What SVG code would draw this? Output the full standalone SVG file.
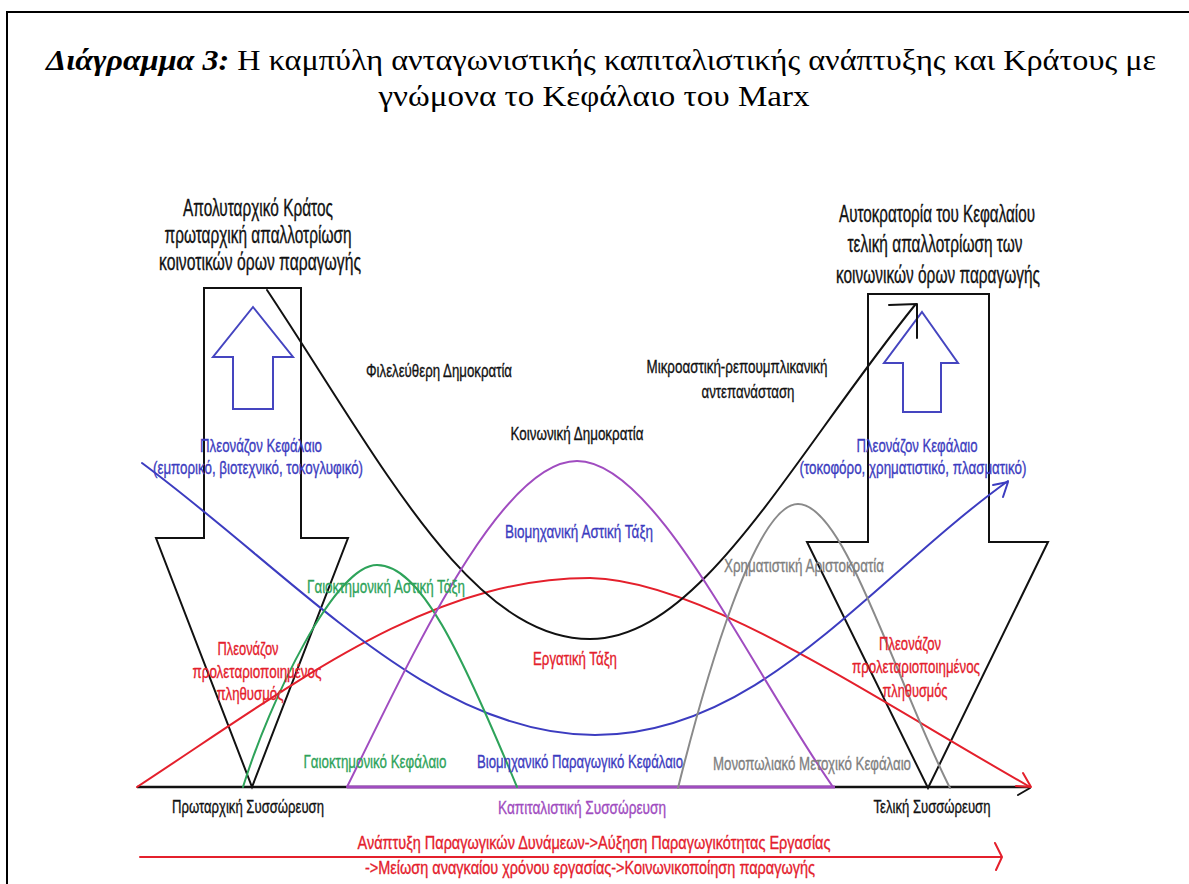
<svg xmlns="http://www.w3.org/2000/svg" width="1189" height="884" viewBox="0 0 1189 884">
<style>
.t{font-family:"Liberation Sans",Arial,sans-serif;text-anchor:middle;font-size:19px;stroke-width:0.35}
.big{font-size:23px;fill:#111;stroke:#111}
.blk{fill:#111;stroke:#111}
.blu{fill:#3c3cc0;stroke:#3c3cc0}
.red{fill:#e4202c;stroke:#e4202c}
.grn{fill:#2ea35a;stroke:#2ea35a}
.gry{fill:#7f7f7f;stroke:#7f7f7f}
.pur{fill:#a04cc0;stroke:#a04cc0}
.ttl{font-family:"Liberation Serif","Times New Roman",serif;font-size:30px;text-anchor:middle;fill:#000}
.c{fill:none;stroke-width:2;stroke-linecap:round;stroke-linejoin:round}
</style>
<rect width="1189" height="884" fill="#fff"/>
<g id="frame"><rect x="7" y="12" width="1200" height="900" fill="none" stroke="#000" stroke-width="2"/></g>
<g id="title">
<text class="ttl" x="601" y="70" textLength="1110" lengthAdjust="spacingAndGlyphs"><tspan font-weight="bold" font-style="italic">Διάγραμμα 3:</tspan> Η καμπύλη ανταγωνιστικής καπιταλιστικής ανάπτυξης και Κράτους με</text>
<text class="ttl" x="594" y="106" textLength="431" lengthAdjust="spacingAndGlyphs">γνώμονα το Κεφάλαιο του Marx</text>
</g>
<g id="left-state">
<polygon points="204,288 301,288 301,538 348,538 252,787 156,538 204,538" fill="none" stroke="#111" stroke-width="2"/>
<polygon points="253,307 293,357 273,357 273,409 233,409 233,357 213,357" fill="none" stroke="#4545c0" stroke-width="2"/>
<text class="t big" x="258" y="216" textLength="150" lengthAdjust="spacingAndGlyphs">Απολυταρχικό Κράτος</text>
<text class="t big" x="258" y="243" textLength="187" lengthAdjust="spacingAndGlyphs">πρωταρχική απαλλοτρίωση</text>
<text class="t big" x="260" y="270" textLength="202" lengthAdjust="spacingAndGlyphs">κοινοτικών όρων παραγωγής</text>
</g>
<g id="right-state">
<polygon points="868,294 989,294 989,542 1048,542 928,788 807,542 868,542" fill="none" stroke="#111" stroke-width="2"/>
<polygon points="922,312 958,363 941,363 941,412 903,412 903,363 884,363" fill="none" stroke="#4545c0" stroke-width="2"/>
<text class="t big" x="937" y="222" textLength="196" lengthAdjust="spacingAndGlyphs">Αυτοκρατορία του Κεφαλαίου</text>
<text class="t big" x="935" y="252" textLength="175" lengthAdjust="spacingAndGlyphs">τελική απαλλοτρίωση των</text>
<text class="t big" x="938" y="283" textLength="204" lengthAdjust="spacingAndGlyphs">κοινωνικών όρων παραγωγής</text>
</g>
<g id="connectors">
<line x1="137" y1="787" x2="1030" y2="787" stroke="#111" stroke-width="2.5"/>
<path class="c" d="M1030,788 L1018,795" stroke="#111"/>
<line x1="347" y1="787" x2="835" y2="787" stroke="#a04cc0" stroke-width="3"/>
<path class="c" stroke="#e4202c" d="M137,787 C300,680 430,578 590,578 C700,580 860,690 1030,787"/>
<path class="c" stroke="#e4202c" d="M1023,773 L1031,787 L1016,786"/>
<path class="c" stroke="#3c3cc0" d="M142,463 C300,580 430,735 595,735 C760,735 870,580 1008,481"/>
<path class="c" stroke="#3c3cc0" d="M993,485 L1008,482 L1003,497"/>
<path class="c" stroke="#111" d="M267,290 C380,460 470,639 590,639 C700,639 790,460 915,305"/>
<path class="c" stroke="#111" d="M889,305 L917,304 L917,338"/>
<path class="c" stroke="#2ea35a" d="M243,787 C270,700 335,565 377,565 C420,565 460,650 517,787"/>
<path class="c" stroke="#a04cc0" d="M347,787 C410,660 500,461 577,461 C655,461 745,660 833,787"/>
<path class="c" stroke="#8a8a8a" d="M678,788 C705,680 755,504 798,504 C845,504 895,680 950,788"/>
<path class="c" stroke="#e4202c" stroke-width="2.5" d="M140,857 L1002,857 M995,843 L1002,857 L996,870"/>
</g>
<g id="labels">
<g id="lbl-filel"><text class="t blk" x="439" y="377" textLength="146" lengthAdjust="spacingAndGlyphs">Φιλελεύθερη Δημοκρατία</text></g>
<g id="lbl-mikro"><text class="t blk" x="737" y="373" textLength="181" lengthAdjust="spacingAndGlyphs">Μικροαστική-ρεπουμπλικανική</text>
<text class="t blk" x="748" y="398" textLength="93" lengthAdjust="spacingAndGlyphs">αντεπανάσταση</text></g>
<g id="lbl-koin"><text class="t blk" x="577" y="440" textLength="133" lengthAdjust="spacingAndGlyphs">Κοινωνική Δημοκρατία</text></g>
<g id="lbl-pk-left"><text class="t blu" x="261" y="452" textLength="122" lengthAdjust="spacingAndGlyphs">Πλεονάζον Κεφάλαιο</text>
<text class="t blu" x="258" y="474" textLength="210" lengthAdjust="spacingAndGlyphs">(εμπορικό, βιοτεχνικό, τοκογλυφικό)</text></g>
<g id="lbl-pk-right"><text class="t blu" x="917" y="452" textLength="121" lengthAdjust="spacingAndGlyphs">Πλεονάζον Κεφάλαιο</text>
<text class="t blu" x="913" y="474" textLength="227" lengthAdjust="spacingAndGlyphs">(τοκοφόρο, χρηματιστικό, πλασματικό)</text></g>
<g id="lbl-biom-at"><text class="t blu" x="579" y="538" textLength="148" lengthAdjust="spacingAndGlyphs">Βιομηχανική Αστική Τάξη</text></g>
<g id="lbl-gaio-at"><text class="t grn" x="386" y="593" textLength="158" lengthAdjust="spacingAndGlyphs">Γαιοκτημονική Αστική Τάξη</text></g>
<g id="lbl-xrim"><text class="t gry" x="804" y="572" textLength="160" lengthAdjust="spacingAndGlyphs">Χρηματιστική Αριστοκρατία</text></g>
<g id="lbl-erg"><text class="t red" x="575" y="665" textLength="84" lengthAdjust="spacingAndGlyphs">Εργατική Τάξη</text></g>
<g id="lbl-pp-left"><text class="t red" x="248" y="655" textLength="61" lengthAdjust="spacingAndGlyphs">Πλεονάζον</text>
<text class="t red" x="257" y="678" textLength="129" lengthAdjust="spacingAndGlyphs">προλεταριοποιημένος</text>
<text class="t red" x="250" y="700" textLength="67" lengthAdjust="spacingAndGlyphs">πληθυσμός</text></g>
<g id="lbl-pp-right"><text class="t red" x="910" y="650" textLength="62" lengthAdjust="spacingAndGlyphs">Πλεονάζον</text>
<text class="t red" x="916" y="673" textLength="128" lengthAdjust="spacingAndGlyphs">προλεταριοποιημένος</text>
<text class="t red" x="915" y="697" textLength="65" lengthAdjust="spacingAndGlyphs">πληθυσμός</text></g>
<g id="lbl-gaio-k"><text class="t grn" x="375" y="768" textLength="143" lengthAdjust="spacingAndGlyphs">Γαιοκτημονικό Κεφάλαιο</text></g>
<g id="lbl-biom-k"><text class="t blu" x="580" y="768" textLength="206" lengthAdjust="spacingAndGlyphs">Βιομηχανικό Παραγωγικό Κεφάλαιο</text></g>
<g id="lbl-mono-k"><text class="t gry" x="812" y="770" textLength="198" lengthAdjust="spacingAndGlyphs">Μονοπωλιακό Μετοχικό Κεφάλαιο</text></g>
<g id="lbl-prot"><text class="t blk" x="248" y="813" textLength="152" lengthAdjust="spacingAndGlyphs">Πρωταρχική Συσσώρευση</text></g>
<g id="lbl-kap"><text class="t pur" x="582" y="814" textLength="168" lengthAdjust="spacingAndGlyphs">Καπιταλιστική Συσσώρευση</text></g>
<g id="lbl-tel"><text class="t blk" x="932" y="813" textLength="117" lengthAdjust="spacingAndGlyphs">Τελική Συσσώρευση</text></g>
<g id="lbl-bottom"><text class="t red" x="594" y="849" font-size="17" textLength="473" lengthAdjust="spacingAndGlyphs">Ανάπτυξη Παραγωγικών Δυνάμεων-&gt;Αύξηση Παραγωγικότητας Εργασίας</text>
<text class="t red" x="590" y="874" font-size="17" textLength="450" lengthAdjust="spacingAndGlyphs">-&gt;Μείωση αναγκαίου χρόνου εργασίας-&gt;Κοινωνικοποίηση παραγωγής</text></g>
</g>
</svg>
